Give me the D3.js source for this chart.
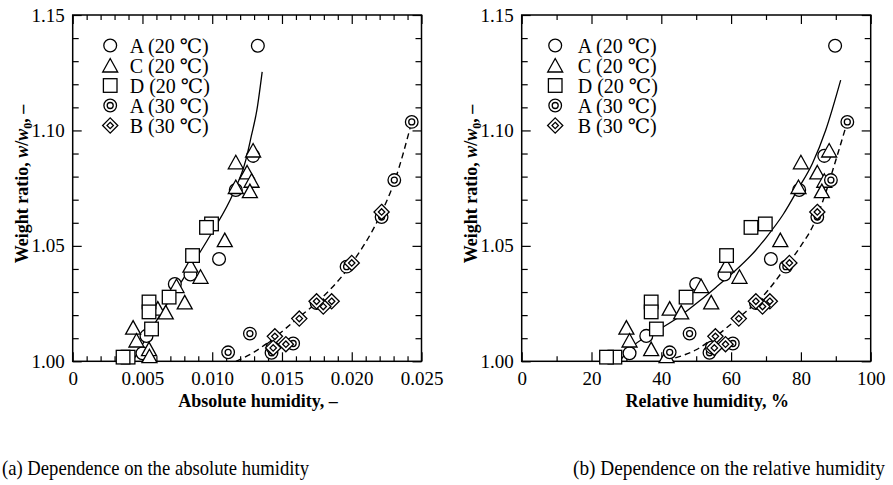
<!DOCTYPE html>
<html><head><meta charset="utf-8">
<script src="https://cdn.jsdelivr.net/npm/d3@7/dist/d3.min.js"></script>
<style>
html,body{margin:0;padding:0;background:#fff;}
svg{display:block;}
text{font-family:"Liberation Serif","Times New Roman","DejaVu Serif",serif;fill:#000;}
</style></head>
<body>
<svg id="chart" width="893" height="485"></svg>
<script>
// ---------- data ----------
const seriesNames = ["A (20 \u2103)", "C (20 \u2103)", "D (20 \u2103)", "A (30 \u2103)", "B (30 \u2103)"];
const seriesShapes = ["circle", "triangle", "square", "dcircle", "diamond"];

const a20AH = [0.01327, 0.01293, 0.01169, 0.01049, 0.00844, 0.00732, 0.00529, 0.0050];
const a20RH = [89.8, 86.7, 79.5, 71.4, 58.1, 50.0, 35.7, 30.9];
const a20W  = [1.1367, 1.0890, 1.0742, 1.0443, 1.0376, 1.0335, 1.0110, 1.0035];

const c20AH = [0.01293, 0.01169, 0.01250, 0.01282, 0.01169, 0.01270, 0.01090, 0.00844, 0.00916, 0.00744, 0.00803, 0.00610, 0.00667, 0.00433, 0.00457, 0.00547, 0.00550];
const c20RH = [88.1, 80.0, 84.7, 86.7, 79.3, 86.0, 74.1, 58.6, 62.4, 51.4, 54.3, 42.4, 45.7, 30.0, 30.9, 37.1, 41.5];
const c20W  = [1.0913, 1.0862, 1.0818, 1.0782, 1.0755, 1.0737, 1.0525, 1.0414, 1.0366, 1.0326, 1.0255, 1.0228, 1.0212, 1.0146, 1.0090, 1.0053, 1.0022];

const d20AH = [0.00995, 0.00959, 0.00859, 0.00691, 0.00547, 0.00547, 0.00565, 0.00397, 0.00361];
const d20RH = [69.8, 65.7, 58.7, 47.1, 37.1, 37.1, 38.6, 26.7, 24.3];
const d20W  = [1.0595, 1.0580, 1.0458, 1.0278, 1.0257, 1.0214, 1.0140, 1.0018, 1.0018];

const a30AH = [0.0243, 0.02305, 0.02214, 0.01963, 0.01748, 0.0158, 0.01425, 0.01432, 0.0127, 0.01114];
const a30RH = [93.3, 88.6, 84.7, 75.7, 67.1, 60.5, 53.8, 54.5, 48.1, 42.4];
const a30W  = [1.1037, 1.0785, 1.0625, 1.0410, 1.0252, 1.0077, 1.0037, 1.0060, 1.0120, 1.0039];

const b30AH = [0.02214, 0.0200, 0.01856, 0.01796, 0.01748, 0.01624, 0.01528, 0.01449, 0.01437];
const b30RH = [84.7, 76.7, 71.1, 69.0, 67.1, 62.2, 58.4, 55.5, 55.2];
const b30W  = [1.0647, 1.0426, 1.0260, 1.0237, 1.0260, 1.0185, 1.0074, 1.0108, 1.0058];

// fitted curves
const fit20AHx = [0.0043, 0.0060, 0.0080, 0.0100, 0.0115, 0.0124, 0.0128, 0.0132, 0.01358];
const fit20AHy = [1.000, 1.0175, 1.0365, 1.0560, 1.0727, 1.0870, 1.0975, 1.1088, 1.1254];
const fit30AHx = [0.0117, 0.0130, 0.0144, 0.0162, 0.0175, 0.0199, 0.0221, 0.0231, 0.0243];
const fit30AHy = [1.000, 1.0040, 1.0100, 1.0190, 1.0255, 1.0416, 1.0640, 1.0785, 1.1037];
const fit20RHx = [28, 31.4, 38.6, 45, 51, 56, 61, 67, 70, 75, 79.3, 83.3, 87.1, 91.4];
const fit20RHy = [1.000, 1.0060, 1.0130, 1.0192, 1.0262, 1.0325, 1.0390, 1.0480, 1.0535, 1.0638, 1.0749, 1.0857, 1.1001, 1.1218];
const fit30RHx = [44, 50, 54.7, 62.4, 69, 75.7, 80, 83.3, 86.2, 90, 93.3];
const fit30RHy = [1.0015, 1.0050, 1.0098, 1.0192, 1.0280, 1.0409, 1.0500, 1.0582, 1.0690, 1.0871, 1.1037];

const yTicks = [1.00, 1.05, 1.10, 1.15];
const yMinor = [1.01, 1.02, 1.03, 1.04, 1.06, 1.07, 1.08, 1.09, 1.11, 1.12, 1.13, 1.14];
const ahTicks = [0, 0.005, 0.010, 0.015, 0.020, 0.025];
const ahTickLabels = ["0", "0.005", "0.010", "0.015", "0.020", "0.025"];
const ahMinor = d3.range(1, 25).filter(i => i % 5 !== 0).map(i => i / 1000);
const rhTicks = [0, 20, 40, 60, 80, 100];
const rhMinor = [10, 30, 50, 70, 90];

const captionA = "(a) Dependence on the absolute humidity";
const captionB = "(b) Dependence on the relative humidity";

// ---------- drawing ----------
const svg = d3.select("#chart");
const plotTop = 15, plotBottom = 361.3;
const yScale = d3.scaleLinear().domain([1.0, 1.15]).range([plotBottom, plotTop]);

function marker(g, shape, x, y) {
  const st = {stroke: "#000", "stroke-width": 1.3, fill: "#fff"};
  const ap = (s) => { for (const k in st) s.attr(k, st[k]); return s; };
  if (shape === "circle") {
    ap(g.append("circle").attr("cx", x).attr("cy", y).attr("r", 6.4));
  } else if (shape === "triangle") {
    const h = 13, w = 15;
    ap(g.append("path").attr("d", `M${x},${y - h / 2 - 0.5}L${x + w / 2},${y + h / 2}L${x - w / 2},${y + h / 2}Z`));
  } else if (shape === "square") {
    ap(g.append("rect").attr("x", x - 6.8).attr("y", y - 6.8).attr("width", 13.6).attr("height", 13.6));
  } else if (shape === "dcircle") {
    ap(g.append("circle").attr("cx", x).attr("cy", y).attr("r", 6.3));
    ap(g.append("circle").attr("cx", x).attr("cy", y).attr("r", 3.0));
  } else if (shape === "diamond") {
    const r = 7.6, r2 = 3.2;
    ap(g.append("path").attr("d", `M${x},${y - r}L${x + r},${y}L${x},${y + r}L${x - r},${y}Z`));
    ap(g.append("path").attr("d", `M${x},${y - r2}L${x + r2},${y}L${x},${y + r2}L${x - r2},${y}Z`));
  }
}

function panel(opts) {
  const g = svg.append("g");
  const x = opts.x;
  const left = x.range()[0], right = x.range()[1];

  // axes with inward ticks
  const bAx = d3.axisBottom(x).tickValues(opts.ticks).tickFormat((d, i) => opts.tickLabels[i]).tickSize(-9).tickPadding(10);
  const bMin = d3.axisBottom(x).tickValues(opts.minor).tickFormat("").tickSize(-5);
  const tAx = d3.axisTop(x).tickValues(opts.ticks).tickFormat("").tickSize(-9);
  const tMin = d3.axisTop(x).tickValues(opts.minor).tickFormat("").tickSize(-5);
  const lAx = d3.axisLeft(yScale).tickValues(yTicks).tickFormat(d3.format(".2f")).tickSize(-9).tickPadding(8);
  const lMin = d3.axisLeft(yScale).tickValues(yMinor).tickFormat("").tickSize(-6);
  const rAx = d3.axisRight(yScale).tickValues(yTicks).tickFormat("").tickSize(-9);
  const rMin = d3.axisRight(yScale).tickValues(yMinor).tickFormat("").tickSize(-6);

  const axes = [
    [bAx, `translate(0,${plotBottom})`], [bMin, `translate(0,${plotBottom})`],
    [tAx, `translate(0,${plotTop})`], [tMin, `translate(0,${plotTop})`],
    [lAx, `translate(${left},0)`], [lMin, `translate(${left},0)`],
    [rAx, `translate(${right},0)`], [rMin, `translate(${right},0)`]
  ];
  axes.forEach(([a, t]) => {
    const ag = g.append("g").attr("transform", t).call(a);
    ag.select(".domain").remove();
    ag.selectAll(".tick line").attr("stroke", "#000").attr("stroke-width", 1.2);
    ag.selectAll("text").attr("font-size", 19).attr("font-family", "Liberation Serif, serif").attr("fill", "#000");
  });

  g.append("rect").attr("x", left).attr("y", plotTop).attr("width", right - left).attr("height", plotBottom - plotTop)
    .attr("fill", "none").attr("stroke", "#000").attr("stroke-width", 1.5);

  // fit lines
  const line = d3.line().x(d => x(d[0])).y(d => yScale(d[1])).curve(d3.curveMonotoneX);
  g.append("path").attr("d", line(opts.fitSolidX.map((v, i) => [v, opts.fitSolidY[i]])))
    .attr("fill", "none").attr("stroke", "#000").attr("stroke-width", 1.3);
  g.append("path").attr("d", line(opts.fitDashX.map((v, i) => [v, opts.fitDashY[i]])))
    .attr("fill", "none").attr("stroke", "#000").attr("stroke-width", 1.4).attr("stroke-dasharray", "6,4");

  // markers
  const mg = g.append("g");
  opts.series.forEach(s => {
    s.xs.forEach((v, i) => marker(mg, s.shape, x(v), yScale(s.ys[i])));
  });

  // legend
  const lg = g.append("g");
  seriesNames.forEach((name, i) => {
    const yy = 45.5 + i * 20;
    marker(lg, seriesShapes[i], left + opts.legMarkX, yy);
    lg.append("text").attr("x", left + opts.legTextX).attr("y", yy + 7).attr("font-size", 20).text(name);
  });

  // axis titles
  g.append("text").attr("x", (left + right) / 2 + 11).attr("y", 406.5).attr("text-anchor", "middle")
    .attr("font-size", 18).attr("font-weight", "bold").text(opts.xTitle);

  const yl = g.append("text").attr("transform", `translate(${left - 45},184) rotate(-90)`)
    .attr("text-anchor", "middle").attr("font-size", 18).attr("font-weight", "bold");
  yl.append("tspan").text("Weight ratio, ");
  yl.append("tspan").attr("font-style", "italic").text("w");
  yl.append("tspan").text("/");
  yl.append("tspan").attr("font-style", "italic").text("w");
  yl.append("tspan").attr("font-size", 12).attr("dy", 4).text("0");
  yl.append("tspan").attr("dy", -4).text(", \u2013");

  // caption (slightly tall letters, as in the reference)
  g.append("text").attr("transform", `translate(${opts.capX},475) scale(1,1.1)`).attr("font-size", 19.5)
    .attr("textLength", opts.capW).attr("lengthAdjust", "spacingAndGlyphs").text(opts.caption);
}

const xAH = d3.scaleLinear().domain([0, 0.025]).range([72.7, 421.5]);
const xRH = d3.scaleLinear().domain([0, 100]).range([521.7, 870.7]);

panel({
  x: xAH, ticks: ahTicks, tickLabels: ahTickLabels, minor: ahMinor,
  fitSolidX: fit20AHx, fitSolidY: fit20AHy, fitDashX: fit30AHx, fitDashY: fit30AHy,
  series: [
    {shape: "circle", xs: a20AH, ys: a20W},
    {shape: "triangle", xs: c20AH, ys: c20W},
    {shape: "square", xs: d20AH, ys: d20W},
    {shape: "dcircle", xs: a30AH, ys: a30W},
    {shape: "diamond", xs: b30AH, ys: b30W}
  ],
  legMarkX: 37.5, legTextX: 57,
  xTitle: "Absolute humidity, \u2013", caption: captionA, capX: 2, capW: 307
});

panel({
  x: xRH, ticks: rhTicks, tickLabels: rhTicks.map(String), minor: rhMinor,
  fitSolidX: fit20RHx, fitSolidY: fit20RHy, fitDashX: fit30RHx, fitDashY: fit30RHy,
  series: [
    {shape: "circle", xs: a20RH, ys: a20W},
    {shape: "triangle", xs: c20RH, ys: c20W},
    {shape: "square", xs: d20RH, ys: d20W},
    {shape: "dcircle", xs: a30RH, ys: a30W},
    {shape: "diamond", xs: b30RH, ys: b30W}
  ],
  legMarkX: 33.5, legTextX: 56,
  xTitle: "Relative humidity, %", caption: captionB, capX: 573, capW: 312
});
</script>
</body></html>
